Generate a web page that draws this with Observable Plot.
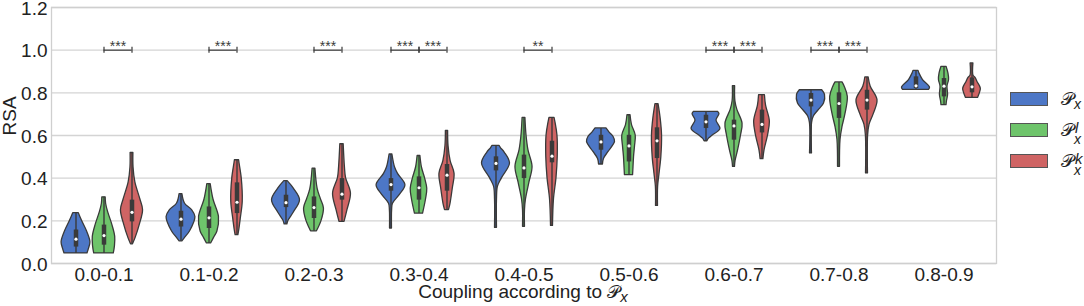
<!DOCTYPE html>
<html><head><meta charset="utf-8">
<script src="https://cdn.jsdelivr.net/npm/d3@7"></script>
<script src="https://cdn.jsdelivr.net/npm/@observablehq/plot@0.6"></script>
<style>
body{margin:0;background:#fff;font-family:"Liberation Sans",Arial,sans-serif;color:#222;}
#wrap{position:relative;width:1084px;height:306px;overflow:hidden;}
#chart{position:absolute;left:0;top:0;}
.sw{position:absolute;left:1010px;width:36px;height:12px;border:1px solid #555;}
.lab{position:absolute;left:1061px;width:23px;height:24px;}
.lab span{position:absolute;white-space:nowrap;}
.P{font-family:"DejaVu Sans",serif;font-size:18px;line-height:18px;left:0;top:0;}
.s{font-size:14px;line-height:14px;font-style:italic;}
#xlab{position:absolute;left:323px;width:400px;text-align:center;top:285px;font-size:19px;line-height:14px;white-space:nowrap;}
#xlab .P2{font-family:"DejaVu Sans",serif;font-size:18px;}
#xlab .sx{position:relative;top:4px;font-size:15px;font-style:italic;}
</style></head><body><div id="wrap"><div id="chart"></div>
<div id="legend"></div>
<div id="xlab">Coupling according to <span class="P2">𝒫</span><span class="sx">x</span></div>
</div>
<script>
// ---------- data ----------
const categories = ["0.0-0.1","0.1-0.2","0.2-0.3","0.3-0.4","0.4-0.5","0.5-0.6","0.6-0.7","0.7-0.8","0.8-0.9"];
const seriesNames = ["Px","Px^l","Px^k"];
const yTicks = [0, 0.2, 0.4, 0.6, 0.8, 1.0, 1.2];

// violin profiles: [RSA value, relative density] from bottom (min) to top (max)
const profilesPx = [
  [[0.047,0.82],[0.07,0.93],[0.10,1.03],[0.15,0.79],[0.20,0.43],[0.236,0.2]],
  [[0.104,0.1],[0.12,0.29],[0.15,0.64],[0.218,1.03],[0.25,0.79],[0.28,0.29],[0.325,0.1]],
  [[0.183,0.1],[0.20,0.18],[0.24,0.57],[0.297,1.0],[0.35,0.57],[0.386,0.12]],
  [[0.164,0.07],[0.25,0.08],[0.28,0.14],[0.32,0.62],[0.367,1.03],[0.42,0.5],[0.45,0.29],[0.511,0.1]],
  [[0.167,0.07],[0.30,0.07],[0.36,0.14],[0.40,0.43],[0.469,1.0],[0.52,0.62],[0.54,0.36],[0.551,0.25]],
  [[0.464,0.14],[0.49,0.21],[0.523,0.54],[0.57,1.0],[0.594,0.89],[0.615,0.6],[0.633,0.39]],
  [[0.573,0.1],[0.585,0.21],[0.60,0.48],[0.63,1.03],[0.67,0.75],[0.70,0.96],[0.711,0.85]],
  [[0.516,0.07],[0.66,0.08],[0.69,0.21],[0.72,0.57],[0.75,0.93],[0.79,1.0],[0.812,0.8]],
  [[0.814,0.93],[0.825,1.0],[0.86,0.5],[0.89,0.25],[0.903,0.18]]
];
const profilesPxl = [
  [[0.047,0.7],[0.08,0.78],[0.125,0.8],[0.18,0.6],[0.242,0.29],[0.28,0.15],[0.31,0.12]],
  [[0.094,0.15],[0.12,0.36],[0.15,0.6],[0.218,0.71],[0.30,0.32],[0.372,0.12]],
  [[0.151,0.21],[0.20,0.54],[0.258,0.71],[0.30,0.5],[0.35,0.26],[0.445,0.1]],
  [[0.234,0.29],[0.30,0.5],[0.35,0.59],[0.40,0.43],[0.45,0.21],[0.504,0.1]],
  [[0.172,0.07],[0.25,0.07],[0.30,0.14],[0.38,0.39],[0.453,0.61],[0.53,0.32],[0.60,0.18],[0.683,0.1]],
  [[0.414,0.29],[0.45,0.32],[0.50,0.36],[0.55,0.43],[0.60,0.48],[0.65,0.21],[0.695,0.11]],
  [[0.453,0.07],[0.48,0.11],[0.53,0.29],[0.60,0.5],[0.656,0.61],[0.72,0.24],[0.76,0.1],[0.831,0.08]],
  [[0.453,0.07],[0.58,0.11],[0.64,0.25],[0.70,0.46],[0.781,0.63],[0.83,0.4],[0.849,0.25]],
  [[0.742,0.18],[0.76,0.21],[0.79,0.29],[0.83,0.25],[0.86,0.36],[0.89,0.32],[0.922,0.18]]
];
const profilesPxk = [
  [[0.09,0.07],[0.12,0.26],[0.18,0.55],[0.25,0.79],[0.30,0.6],[0.38,0.24],[0.45,0.11],[0.518,0.1]],
  [[0.133,0.1],[0.165,0.18],[0.21,0.27],[0.289,0.41],[0.398,0.34],[0.47,0.18],[0.484,0.15]],
  [[0.195,0.18],[0.25,0.39],[0.328,0.64],[0.40,0.29],[0.45,0.21],[0.559,0.12]],
  [[0.25,0.14],[0.28,0.25],[0.35,0.41],[0.42,0.54],[0.48,0.26],[0.55,0.11],[0.622,0.08]],
  [[0.176,0.07],[0.30,0.14],[0.40,0.32],[0.50,0.41],[0.60,0.39],[0.66,0.25],[0.683,0.18]],
  [[0.27,0.07],[0.36,0.08],[0.42,0.18],[0.50,0.31],[0.60,0.36],[0.68,0.26],[0.747,0.11]],
  [[0.489,0.1],[0.53,0.18],[0.60,0.43],[0.667,0.56],[0.74,0.29],[0.789,0.21]],
  [[0.422,0.07],[0.60,0.08],[0.65,0.18],[0.70,0.48],[0.766,0.75],[0.83,0.26],[0.872,0.12]],
  [[0.776,0.43],[0.80,0.57],[0.82,0.63],[0.85,0.4],[0.87,0.25],[0.88,0.11],[0.938,0.1]]
];
// inner boxes: [q1, median, q3]
const boxPx = [[0.077,0.114,0.157],[0.171,0.208,0.245],[0.262,0.285,0.32],[0.339,0.37,0.398],[0.434,0.469,0.50],[0.531,0.57,0.601],[0.633,0.664,0.695],[0.734,0.766,0.797],[0.82,0.833,0.875]];
const boxPxl = [[0.086,0.131,0.18],[0.164,0.214,0.265],[0.211,0.262,0.312],[0.297,0.355,0.406],[0.398,0.448,0.508],[0.476,0.551,0.601],[0.578,0.645,0.672],[0.68,0.75,0.80],[0.781,0.831,0.867]];
const boxPxk = [[0.195,0.24,0.297],[0.234,0.287,0.378],[0.297,0.325,0.398],[0.339,0.414,0.464],[0.472,0.503,0.573],[0.492,0.575,0.636],[0.612,0.652,0.719],[0.719,0.766,0.812],[0.80,0.828,0.87]];

// significance annotations (series index 0 = Px, 1 = Px^l, 2 = Px^k)
const annCategory = ["0.0-0.1","0.1-0.2","0.2-0.3","0.3-0.4","0.3-0.4","0.4-0.5","0.6-0.7","0.6-0.7","0.7-0.8","0.7-0.8"];
const annFrom     = [1,1,1,0,1,1,0,1,0,1];
const annTo       = [2,2,2,1,2,2,1,2,1,2];
const annLabel    = ["***","***","***","***","***","**","***","***","***","***"];
const annLevel = 1.0;

// ---------- layout / style ----------
const colors = ["#4d77c6","#6ec46b","#cf6464"];
const gray = "#3a3a3a";
const dodge = 0.8 / 3;          // seaborn hue width inside a category
const half = dodge / 2;

const pos = (c, s) => c + 0.5 + (s - 1) * dodge;
const profiles = [profilesPx, profilesPxl, profilesPxk];
const boxes = [boxPx, boxPxl, boxPxk];

const areaRows = [];
const boxRows = [];
profiles.forEach((prof, s) => prof.forEach((pts, c) => {
  const cx = pos(c, s);
  pts.forEach(([v, d]) => areaRows.push({key: s * 9 + c, series: seriesNames[s], y: v, x1: cx - d * half, x2: cx + d * half}));
  const [q1, med, q3] = boxes[s][c];
  boxRows.push({series: seriesNames[s], x: cx, lo: pts[0][0], hi: pts[pts.length - 1][0], q1, med, q3});
}));

const annRows = annCategory.map((cat, i) => {
  const c = categories.indexOf(cat);
  return {xa: pos(c, annFrom[i]), xb: pos(c, annTo[i]), xm: (pos(c, annFrom[i]) + pos(c, annTo[i])) / 2, label: annLabel[i], y: annLevel};
});
const annEnds = annRows.flatMap(d => [{x: d.xa, y: d.y}, {x: d.xb, y: d.y}]);

const chart = Plot.plot({
  width: 1084, height: 306,
  marginLeft: 51, marginRight: 88, marginTop: 7, marginBottom: 43,
  style: {fontFamily: '"Liberation Sans", Arial, sans-serif', fontSize: "19px", color: "#222", background: "#fff", overflow: "visible"},
  x: {domain: [0, 9]},
  y: {domain: [0, 1.2]},
  color: {domain: seriesNames, range: colors},
  marks: [
    Plot.gridY(yTicks, {stroke: "#d4d4d4", strokeOpacity: 1, strokeWidth: 1.3}),
    Plot.frame({stroke: "#cfcfcf", strokeWidth: 1.3}),
    Plot.axisY({ticks: yTicks, tickFormat: d3.format(".1f"), tickSize: 0, tickPadding: 4, label: null, fontSize: 19, dy: 1}),
    Plot.axisX({ticks: categories.map((_, i) => i + 0.5), tickFormat: d => categories[Math.round(d - 0.5)], tickSize: 0, tickPadding: 4, label: null, fontSize: 19}),
    Plot.text(["RSA"], {frameAnchor: "left", dx: -42, rotate: -90, fontSize: 19, fill: "#222"}),
    Plot.areaX(areaRows, {y: "y", x1: "x1", x2: "x2", z: "key", fill: "series", stroke: gray, strokeWidth: 1.3, curve: "catmull-rom"}),
    Plot.ruleX(boxRows, {x: "x", y1: "lo", y2: "hi", stroke: gray, strokeWidth: 1.4}),
    Plot.ruleX(boxRows, {x: "x", y1: "q1", y2: "q3", stroke: gray, strokeWidth: 4.5}),
    Plot.dot(boxRows, {x: "x", y: "med", r: 1.6, fill: "white", stroke: null}),
    Plot.ruleY(annRows, {y: "y", x1: "xa", x2: "xb", stroke: gray, strokeWidth: 1.2}),
    Plot.ruleX(annEnds, {x: "x", y1: "y", y2: "y", insetTop: -3, insetBottom: -3, stroke: gray, strokeWidth: 1.2}),
    Plot.text(annRows, {x: "xm", y: "y", text: "label", dy: 1, lineAnchor: "bottom", fontSize: 14, fill: gray})
  ]
});
document.getElementById("chart").appendChild(chart);

// legend (HTML, right of the plot)
const legendSup = ["", "l", "k"];
const legTops = [92, 123, 154];
const legend = document.getElementById("legend");
seriesNames.forEach((s, i) => {
  const sw = document.createElement("div");
  sw.className = "sw"; sw.style.top = legTops[i] + "px"; sw.style.background = colors[i];
  legend.appendChild(sw);
  const lb = document.createElement("div");
  lb.className = "lab"; lb.style.top = (legTops[i] - 2) + "px";
  lb.innerHTML = '<span class="P">𝒫</span>' +
    (legendSup[i]
      ? '<span class="s" style="left:14px;top:0px;font-size:15px">' + legendSup[i] + '</span><span class="s" style="left:13px;top:11px">x</span>'
      : '<span class="s" style="left:13px;top:7px">x</span>');
  legend.appendChild(lb);
});
</script>
</body></html>
